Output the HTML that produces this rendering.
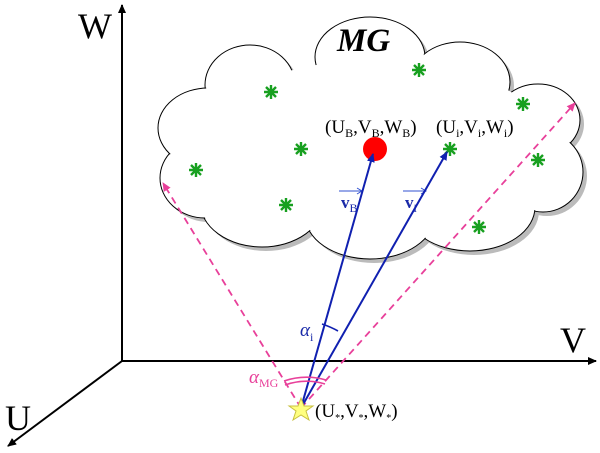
<!DOCTYPE html>
<html><head><meta charset="utf-8"><style>
html,body{margin:0;padding:0;background:#fff;width:600px;height:453px;overflow:hidden}
svg{display:block}
text{font-family:"Liberation Serif",serif}
</style></head><body>
<svg width="600" height="453" viewBox="0 0 600 453">
<defs>
<marker id="ab" markerWidth="10" markerHeight="10" refX="8" refY="4" orient="auto" markerUnits="userSpaceOnUse"><path d="M0,0 L9,4 L0,8 z" fill="#000"/></marker>
<marker id="ablue" markerWidth="10" markerHeight="10" refX="8" refY="4" orient="auto" markerUnits="userSpaceOnUse"><path d="M0,0 L9,4 L0,8 z" fill="#1020b0"/></marker>
<marker id="apink" markerWidth="10" markerHeight="10" refX="8" refY="4" orient="auto" markerUnits="userSpaceOnUse"><path d="M0,0 L9,4 L0,8 z" fill="#e8409a"/></marker>
<g id="stars"><path d="M-7,0H7M0,-7V7M-5,-5L5,5M-5,5L5,-5" stroke="#18a020" stroke-width="2.4"/></g>
</defs>
<line x1="122" y1="361" x2="122" y2="5" stroke="#000" stroke-width="2" marker-end="url(#ab)"/>
<line x1="122" y1="361" x2="596" y2="361" stroke="#000" stroke-width="2" marker-end="url(#ab)"/>
<line x1="122" y1="361" x2="8" y2="446" stroke="#000" stroke-width="2" marker-end="url(#ab)"/>
<text x="78" y="38" font-size="36">W</text>
<text x="560" y="352" font-size="36">V</text>
<text x="5" y="430" font-size="36">U</text>
<g fill="#bbb" transform="translate(4,4)">
<ellipse cx="250" cy="85" rx="45" ry="40"/><ellipse cx="370" cy="57" rx="55" ry="40"/><ellipse cx="460" cy="82" rx="50" ry="40"/>
<ellipse cx="538" cy="120" rx="42" ry="36"/><ellipse cx="543" cy="172" rx="40" ry="40"/><ellipse cx="470" cy="207" rx="65" ry="44"/>
<ellipse cx="370" cy="215" rx="65" ry="44"/><ellipse cx="262" cy="202" rx="62" ry="45"/><ellipse cx="205" cy="178" rx="45" ry="40"/>
<ellipse cx="208" cy="128" rx="50" ry="40"/></g>
<g fill="#fff" stroke="#000" stroke-width="1">
<ellipse cx="250" cy="85" rx="45" ry="40"/><ellipse cx="370" cy="57" rx="55" ry="40"/><ellipse cx="460" cy="82" rx="50" ry="40"/>
<ellipse cx="538" cy="120" rx="42" ry="36"/><ellipse cx="543" cy="172" rx="40" ry="40"/><ellipse cx="470" cy="207" rx="65" ry="44"/>
<ellipse cx="370" cy="215" rx="65" ry="44"/><ellipse cx="262" cy="202" rx="62" ry="45"/><ellipse cx="205" cy="178" rx="45" ry="40"/>
<ellipse cx="208" cy="128" rx="50" ry="40"/></g>
<g fill="#fff">
<ellipse cx="250" cy="85" rx="44" ry="39"/><ellipse cx="370" cy="57" rx="54" ry="39"/><ellipse cx="460" cy="82" rx="49" ry="39"/>
<ellipse cx="538" cy="120" rx="41" ry="35"/><ellipse cx="543" cy="172" rx="39" ry="39"/><ellipse cx="470" cy="207" rx="64" ry="43"/>
<ellipse cx="370" cy="215" rx="64" ry="43"/><ellipse cx="262" cy="202" rx="61" ry="44"/><ellipse cx="205" cy="178" rx="44" ry="39"/>
<ellipse cx="208" cy="128" rx="49" ry="39"/><ellipse cx="375" cy="140" rx="170" ry="80"/></g>
<text x="337" y="51" font-size="33" font-weight="bold" font-style="italic">MG</text>
<use href="#stars" x="271" y="92"/><use href="#stars" x="419" y="70"/><use href="#stars" x="523" y="104"/>
<use href="#stars" x="301" y="149"/><use href="#stars" x="196" y="170"/><use href="#stars" x="286" y="205"/>
<use href="#stars" x="450" y="149"/><use href="#stars" x="538" y="160"/><use href="#stars" x="479" y="227"/>
<circle cx="375" cy="149" r="12" fill="#f00"/>
<text x="325" y="133" font-size="19">(U<tspan font-size="12" dy="4">B</tspan><tspan dy="-4">,V</tspan><tspan font-size="12" dy="4">B</tspan><tspan dy="-4">,W</tspan><tspan font-size="12" dy="4">B</tspan><tspan dy="-4">)</tspan></text>
<text x="436" y="133" font-size="19">(U<tspan font-size="12" dy="4">i</tspan><tspan dy="-4">,V</tspan><tspan font-size="12" dy="4">i</tspan><tspan dy="-4">,W</tspan><tspan font-size="12" dy="4">i</tspan><tspan dy="-4">)</tspan></text>
<line x1="339" y1="191" x2="362" y2="191" stroke="#3050d0" stroke-width="1"/><path d="M357,188 L362,191 L357,194" fill="none" stroke="#3050d0"/>
<text x="341" y="208" font-size="17" fill="#1a2aa8" font-weight="bold">v<tspan font-size="12" dy="4" font-weight="normal">B</tspan></text>
<line x1="403" y1="191" x2="426" y2="191" stroke="#3050d0" stroke-width="1"/><path d="M421,188 L426,191 L421,194" fill="none" stroke="#3050d0"/>
<text x="405" y="208" font-size="17" fill="#1a2aa8" font-weight="bold">v<tspan font-size="12" dy="4" font-weight="normal">i</tspan></text>
<line x1="301" y1="408" x2="163" y2="183" stroke="#e8409a" stroke-width="1.8" stroke-dasharray="7,5" marker-end="url(#apink)"/>
<line x1="301" y1="408" x2="575" y2="103" stroke="#e8409a" stroke-width="1.8" stroke-dasharray="7,5" marker-end="url(#apink)"/>
<line x1="301" y1="408" x2="373" y2="154" stroke="#1020b0" stroke-width="2" marker-end="url(#ablue)"/>
<line x1="301" y1="408" x2="447" y2="152" stroke="#1020b0" stroke-width="2" marker-end="url(#ablue)"/>
<path d="M322,324 Q331,327 338,331" fill="none" stroke="#1020b0" stroke-width="1.6"/>
<text x="300" y="336" font-size="19" fill="#1a2aa8" font-style="italic">α<tspan font-size="12" dy="5" font-style="normal">i</tspan></text>
<text x="249" y="383" font-size="19" fill="#e8409a" font-style="italic">α<tspan font-size="12" dy="4" font-style="normal">MG</tspan></text>
<path d="M284,381 Q305,374 326,380" fill="none" stroke="#e8409a" stroke-width="1.6"/>
<path d="M285,385 Q305,378 325,384" fill="none" stroke="#e8409a" stroke-width="1.6"/>
<polygon points="301,398 304,406 313,406 306,411 309,420 301,415 293,420 296,411 289,406 298,406" fill="#ffff80" stroke="#c8c040" stroke-width="1"/>
<text x="315" y="417" font-size="19">(U<tspan font-size="10" dy="4">*</tspan><tspan dy="-4">,V</tspan><tspan font-size="10" dy="4">*</tspan><tspan dy="-4">,W</tspan><tspan font-size="10" dy="4">*</tspan><tspan dy="-4">)</tspan></text>
</svg>
</body></html>
